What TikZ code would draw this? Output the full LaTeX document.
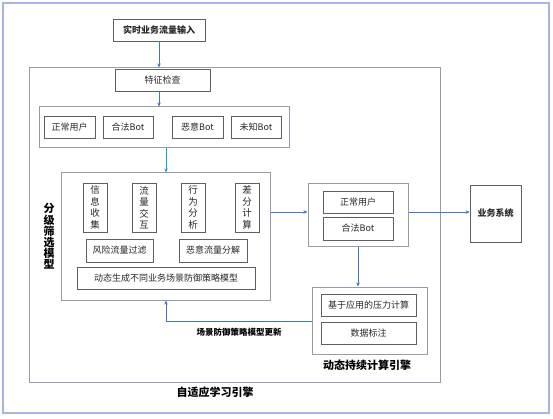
\documentclass[tikz,border=0pt]{standalone}
\usepackage{fontspec}
\setmainfont{Noto Sans CJK SC}
\usetikzlibrary{arrows.meta}
\definecolor{arrblue}{RGB}{68,114,196}
\definecolor{arrteal}{RGB}{20,160,205}
\definecolor{boxgray}{RGB}{95,95,95}
\definecolor{framegray}{RGB}{150,155,170}
\definecolor{outerblue}{RGB}{168,180,226}
\definecolor{txt}{RGB}{40,40,40}
\tikzset{
  box/.style={draw=boxgray, line width=0.7pt, fill=white, inner sep=0pt, font=\fontsize{9}{11}\selectfont, text=txt, align=center},
  vbox/.style={box, minimum width=24pt, minimum height=49pt, font=\fontsize{9.5}{11.5}\selectfont},
  frame/.style={draw=framegray, line width=1pt, inner sep=0pt},
  conn/.style={draw=arrblue, line width=0.7pt, -{Stealth[length=4pt,width=3.5pt]}},
  lbl/.style={font=\bfseries\fontsize{11}{13}\selectfont, text=black, inner sep=0pt},
}
\begin{document}
\begin{tikzpicture}[x=1pt,y=-1pt]
\useasboundingbox (0,0) rectangle (553,419);
\node[draw=outerblue, line width=2pt, minimum width=546pt, minimum height=410pt, inner sep=0pt] (outer) at (276,208) {};
\node[frame, minimum width=411pt, minimum height=314pt] (adapt) at (234.5,225) {};
\node[box, font=\bfseries\fontsize{9}{11}\selectfont, minimum width=92pt, minimum height=22pt] (input) at (159,30) {实时业务流量输入};
\node[box, minimum width=95pt, minimum height=22pt] (feat) at (162.5,80) {特征检查};
\node[frame, minimum width=250pt, minimum height=41pt] (cls) at (164,127.5) {};
\node[box, minimum width=51pt, minimum height=22pt] (c1) at (69.5,127) {正常用户};
\node[box, minimum width=50pt, minimum height=22pt] (c2) at (128,127) {合法Bot};
\node[box, minimum width=51pt, minimum height=22pt] (c3) at (197.5,127) {恶意Bot};
\node[box, minimum width=50pt, minimum height=22pt] (c4) at (256,127) {未知Bot};
\node[frame, minimum width=209pt, minimum height=127pt] (screen) at (165.5,236.5) {};
\node[lbl, align=center, font=\bfseries\fontsize{11}{11.2}\selectfont] (screenlbl) at (49,236.5) {分\\级\\筛\\选\\模\\型};
\node[vbox] (v1) at (95,207.5) {信\\息\\收\\集};
\node[vbox] (v2) at (144,207.5) {流\\量\\交\\互};
\node[vbox] (v3) at (193,207.5) {行\\为\\分\\析};
\node[vbox] (v4) at (247,207.5) {差\\分\\计\\算};
\node[box, minimum width=67pt, minimum height=23pt] (risk) at (119.5,250.5) {风险流量过滤};
\node[box, minimum width=68pt, minimum height=23pt] (mal) at (213,250.5) {恶意流量分解};
\node[box, minimum width=178pt, minimum height=22pt] (gen) at (166,278) {动态生成不同业务场景防御策略模型};
\node[frame, minimum width=100pt, minimum height=63pt] (dyn) at (358,215.5) {};
\node[box, minimum width=70pt, minimum height=22pt] (d1) at (358,202) {正常用户};
\node[box, minimum width=70pt, minimum height=23pt] (d2) at (358,228.5) {合法Bot};
\node[box, font=\bfseries\fontsize{9}{11}\selectfont, minimum width=51pt, minimum height=57pt] (biz) at (495.5,213.5) {业务系统};
\node[frame, minimum width=115pt, minimum height=67pt] (comp) at (369.5,320.5) {};
\node[box, minimum width=95pt, minimum height=22pt] (p1) at (368.5,305) {基于应用的压力计算};
\node[box, minimum width=95pt, minimum height=22pt] (p2) at (368.5,333) {数据标注};
\node[lbl] (complbl) at (367,365) {动态持续计算引擎};
\node[lbl] (adaptlbl) at (215,392) {自适应学习引擎};
\node[lbl, font=\bfseries\fontsize{8.5}{10}\selectfont] (updlbl) at (239,332) {场景防御策略模型更新};
% connectors
\draw[conn] (input.south) -- (input.south |- adapt.north);
\draw[conn] (input.south |- feat.south) -- (input.south |- cls.north);
\coordinate (tealx) at (166,0);
\draw[conn, draw=arrteal] (tealx |- cls.south) -- (tealx |- screen.north);
\coordinate (row) at (0,212);
\draw[conn] (screen.east |- row) -- (dyn.west |- row);
\draw[conn] (dyn.east |- row) -- (biz.west |- row);
\draw[conn] (dyn.south) -- (dyn.south |- comp.north);
\coordinate (fb) at (0,321);
\draw[conn] (comp.west |- fb) -- (tealx |- fb) -- (tealx |- screen.south);
\end{tikzpicture}
\end{document}
